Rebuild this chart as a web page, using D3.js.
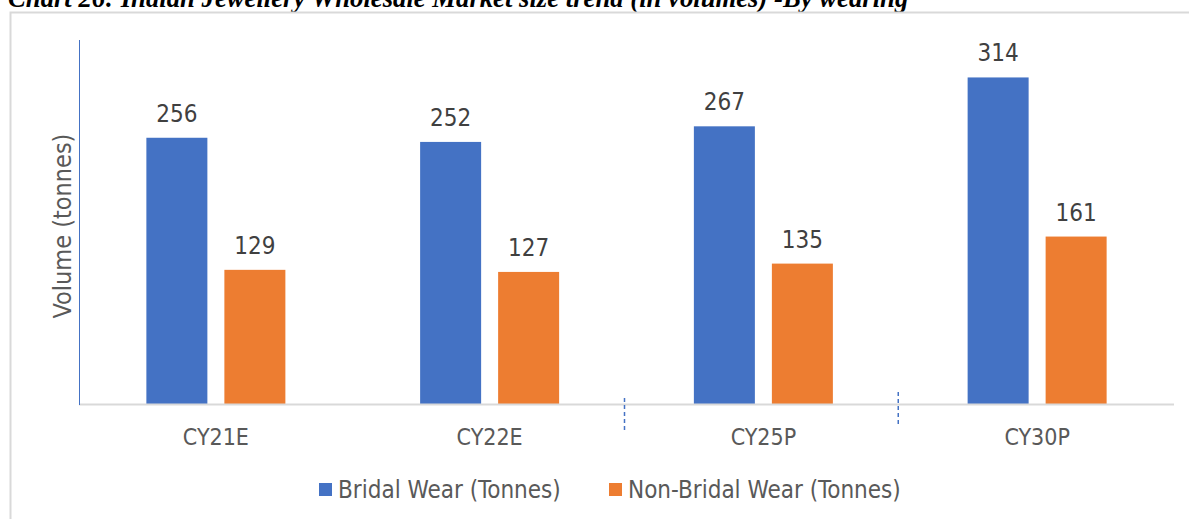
<!DOCTYPE html>
<html>
<head>
<meta charset="utf-8">
<script src="https://cdn.jsdelivr.net/npm/d3@7"></script>
<style>
  html, body { margin: 0; padding: 0; background: #fff; }
  svg { display: block; }
</style>
</head>
<body>
<svg id="chart" width="1189" height="519"></svg>
<script>
// Wholesale jewellery volumes by wearing occasion
const categories = ["CY21E", "CY22E", "CY25P", "CY30P"];
const seriesNames = ["Bridal Wear (Tonnes)", "Non-Bridal Wear (Tonnes)"];
const bridal = [256, 252, 267, 314];
const nonBridal = [129, 127, 135, 161];
const yDomain = [0, 350];

const colors = ["#4472c4", "#ed7d31"];
const labelFont = "'DejaVu Sans Condensed', 'DejaVu Sans', sans-serif";

const svg = d3.select("#chart");
const W = 1189, H = 519;
const plot = { left: 79, right: 1174, top: 40, bottom: 404 };

// Title line (runs off the top edge of the page)
svg.append("text")
  .attr("x", 8).attr("y", 7)
  .attr("font-family", "'Liberation Serif', 'Times New Roman', serif")
  .attr("font-weight", "bold").attr("font-style", "italic")
  .attr("font-size", 26.7)
  .attr("fill", "#000")
  .text("Chart 26: Indian Jewellery Wholesale Market size trend (in volumes) -By wearing");

// Chart frame
svg.append("rect")
  .attr("x", 10.5).attr("y", 12.5)
  .attr("width", W + 20).attr("height", H + 20)
  .attr("fill", "none").attr("stroke", "#d9d9d9").attr("stroke-width", 2);

const x = d3.scaleBand().domain(categories).range([plot.left, plot.right]).paddingInner(0).paddingOuter(0);
const y = d3.scaleLinear().domain(yDomain).range([plot.bottom, plot.top]);

const barW = 61, gap = 17;
const series = [bridal, nonBridal];

// Bars with value labels
series.forEach((vals, si) => {
  const offset = si === 0 ? -(gap / 2 + barW) : gap / 2;
  const rows = categories.map((c, i) => ({ c, v: vals[i] }));
  svg.append("g").selectAll("rect")
    .data(rows)
    .join("rect")
    .attr("x", d => x(d.c) + x.bandwidth() / 2 + offset)
    .attr("y", d => y(d.v))
    .attr("width", barW)
    .attr("height", d => y(0) - y(d.v))
    .attr("fill", colors[si]);

  svg.append("g").selectAll("text")
    .data(rows)
    .join("text")
    .attr("x", d => x(d.c) + x.bandwidth() / 2 + offset + barW / 2)
    .attr("y", d => y(d.v) - 16)
    .attr("text-anchor", "middle")
    .attr("font-family", labelFont)
    .attr("font-size", 24)
    .attr("fill", "#404040")
    .text(d => d.v);
});

// Baseline
svg.append("line")
  .attr("x1", plot.left).attr("x2", plot.right)
  .attr("y1", y(0) + 0.5).attr("y2", y(0) + 0.5)
  .attr("stroke", "#d9d9d9").attr("stroke-width", 2);

// Vertical axis line
svg.append("line")
  .attr("x1", plot.left + 0.5).attr("x2", plot.left + 0.5)
  .attr("y1", plot.top).attr("y2", y(0) + 1)
  .attr("stroke", "#4472c4").attr("stroke-width", 1);

// Dashed group separators
const seps = [
  { c: categories[2], y1: y(0) - 6, y2: y(0) + 26 },
  { c: categories[3], y1: y(0) - 12, y2: y(0) + 20 }
];
svg.append("g").selectAll("line")
  .data(seps)
  .join("line")
  .attr("x1", d => x(d.c) - 2).attr("x2", d => x(d.c) - 2)
  .attr("y1", d => d.y1).attr("y2", d => d.y2)
  .attr("stroke", "#4472c4").attr("stroke-width", 1.5)
  .attr("stroke-dasharray", "4,3");

// Category axis
const xAxis = svg.append("g")
  .attr("transform", `translate(0,${y(0)})`)
  .call(d3.axisBottom(x).tickSize(0).tickPadding(0));
xAxis.select(".domain").remove();
xAxis.selectAll("text")
  .attr("y", 41).attr("dy", null)
  .attr("font-family", labelFont)
  .attr("font-size", 23)
  .attr("fill", "#595959");

// Axis title
svg.append("text")
  .attr("transform", `translate(${71},${(plot.top + plot.bottom) / 2 + 4}) rotate(-90)`)
  .attr("text-anchor", "middle")
  .attr("font-family", labelFont)
  .attr("font-size", 25)
  .attr("fill", "#595959")
  .text("Volume (tonnes)");

// Legend
const legend = svg.append("g").attr("transform", "translate(319,483)");
const legendX = [0, 290];
seriesNames.forEach((name, i) => {
  const g = legend.append("g").attr("transform", `translate(${legendX[i]},0)`);
  g.append("rect").attr("width", 13).attr("height", 13).attr("fill", colors[i]);
  g.append("text")
    .attr("x", 19).attr("y", 15)
    .attr("font-family", labelFont)
    .attr("font-size", 24)
    .attr("fill", "#595959")
    .text(name);
});
</script>
</body>
</html>
